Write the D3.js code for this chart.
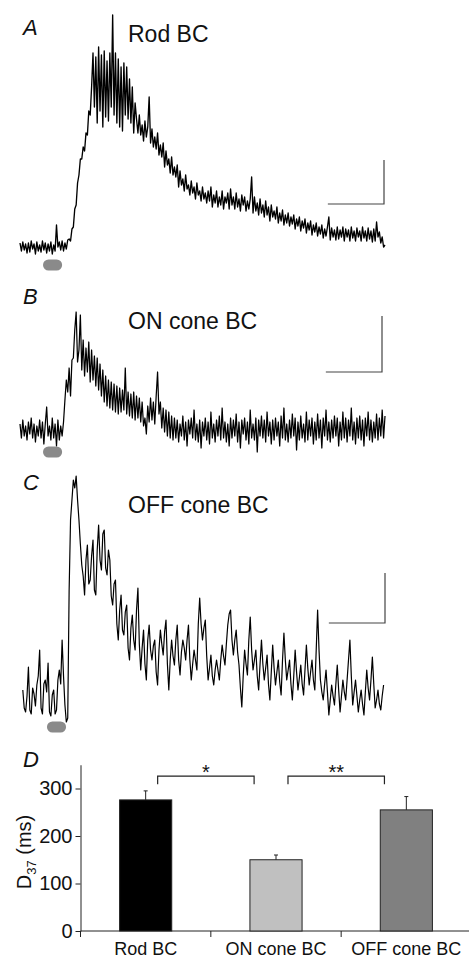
<!DOCTYPE html>
<html>
<head>
<meta charset="utf-8">
<script src="https://cdn.jsdelivr.net/npm/d3@7"></script>
<style>
  body { margin: 0; background: #fff; }
  text { font-family: "Liberation Sans", Arial, Helvetica, sans-serif; fill: #111; }
</style>
</head>
<body>
<script>
    // traces are sampled every dt ms, amplitudes in pA
    var dt = 5

    var rodTrace = [
        2, -2, 2.5, -1.5, 1.5, -3, 2, -2.5, 3, -1, 1.5, -3.5, 2.5, -2, 1, -2.5, 3, -1.5, 2, -3,
        1.5, -2, 2.5, -3.5, 1, -2, 11, 0, 2.5, -1.5, 3, -2, 2, -1, 3.5,
        4, 3, 9, 10, 19, 21, 32, 36, 44, 44, 50, 48, 57, 56, 68, 66, 80,
        97, 70, 95, 62, 100, 68, 96, 60, 98, 65, 93, 63, 97, 70, 116, 66, 97, 62, 94, 60, 90, 58,
        92, 66, 90, 64, 84, 62, 80, 57, 72,
        64, 57, 66, 56, 61, 53, 63, 55, 60, 75,
        52, 59, 50, 55, 49, 57, 46, 51, 45, 52,
        40, 48, 41, 44, 37, 45, 36, 40, 35, 41,
        30, 38, 31, 34, 28, 36, 29, 31, 26, 33,
        27, 30, 24, 32, 26, 28, 23, 30, 24, 27,
        22, 28, 23, 30, 20, 26, 22, 28, 20, 25,
        21, 28, 19, 25, 22, 27, 19, 29, 21, 25,
        19, 27, 20, 24, 18, 26, 21, 25, 18, 23,
        19, 24, 35, 17, 25, 18, 22, 16, 24, 17,
        21, 15, 23, 16, 20, 13, 21, 15, 18, 14,
        20, 12, 17, 13, 18.5, 11, 16, 12, 17, 10.5,
        15, 11.5, 16, 9, 14, 10.5, 15, 8, 13, 9.5,
        14, 7, 12, 8.5, 13, 6, 11, 7.5, 12, 5.5,
        10, 6.5, 11, 4.5, 9, 5.5, 10, 15, 3.5, 9.5,
        5, 8.5, 3.5, 10, 4, 8.5, 5, 10, 3, 9,
        5, 8.5, 3, 10, 4.5, 8, 3, 9.5, 5, 8,
        3, 10, 4.5, 8, 3, 9.5, 4, 8, 2.5, 9,
        3, 12.5, 5, 7.5, 2, 5, 0, 1]

    var onTrace = [
        3, -4, 5, -3, 2, -5, 4, -2, 6, -4, 3, -6, 2, -3, 5, -4, 4, -7, 3, 11.5,
        -3, 2, -5, 6, -4, 3, -8, 5, -5, 2, -3,
        4, 15, 25, 19, 31, 17, 35, 36, 50, 59, 34, 40, 57.5, 30, 45, 27, 41, 29, 44, 24,
        40, 25, 37, 22, 36, 20, 33, 17, 30, 14, 27, 12, 25, 11, 24, 10, 23, 9, 22, 8,
        21, 9, 20, 10, 31, 8, 19, 7, 18, 6, 19, 5, 17, 6, 16, 4, 14, 2, 6, -2,
        12, 4, 16, 5, 14, 3, 17, 29, 8, 14, 1, 11, -1, 10, -3, 9, -4, 7, -5, 6,
        -4, 5, -6, 3, -3, 7, -5, 4, -8, 5,
        -2, 6, -4, 10, -5, 3, -6, 5, -9, 4,
        -3, 6, -5, 4, -7, 9, -4, 3, -6, 5,
        -3, 7, -5, 11, -4, 4, -6, 3, -8, 6,
        -4, 5, -3, 8, -6, 4, -9, 5, -2, 6,
        -5, 4, -7, 10, -4, 3, -5, 6, -11, 5,
        -3, 7, -4, 5, -6, 9, -3, 4, -7, 5,
        -5, 6, -3, 4, -8, 7, -4, 11, -5, 3,
        -6, 5, -4, 8, -3, 6, -10, 4, -5, 7,
        -4, 3, -6, 9, -5, 5, -3, 6, -7, 4,
        -5, 8, -4, 5, -9, 6, -3, 10, -5, 4,
        -6, 5, -4, 7, -3, 6, -8, 4, -5, 9,
        -4, 6, -6, 5, -3, 11, -5, 4, -7, 6,
        -4, 7, -5, 5, -8, 6, -3, 9, -5, 5,
        -6, 4, -4, 8, -5, 6, -3, 10, -4, 7]

    var offTrace = [
        5, -4, -6, 2, 16.5, -5, -7, 6, 3, -3, 7.5, 12, 25, -4, -7, 8, 10, 4, 18.5, -6,
        -8, 2.5, 5, -7, -5, 10, 15, 8, 30, 12, -2.5, -11, -9,
        55, 90, 100, 110, 106, 112, 100, 90, 78, 67.5, 62, 52.5, 70, 77.5, 58, 60, 72, 80, 55, 52.5,
        75, 87.5, 70, 65, 83, 85, 66, 62.5, 75, 70, 52, 47.5, 58, 60, 38, 30, 45, 52.5, 35, 32.5,
        44, 47.5, 26, 20, 36, 42.5, 30, 25, 45, 56, 28, 15, 26, 35, 18, 10, 30, 37.5, 25, 20,
        27, 30, 14, 7.5, 25, 35, 28, 22.5, 34, 40, 18, 5, 20, 30, 22, 17.5, 30, 37.5, 20, 12.5,
        24, 30, 26, 20, 30, 37.5, 20, 10, 18, 25, 20, 15, 38, 51, 38, 30, 36, 40, 22, 10,
        16, 22.5, 12, 7.5, 15, 20, 15, 10, 20, 27.5, 22, 17.5, 28, 37.5, 43, 45, 30, 22.5, 30, 35,
        24, 17.5, 6, -3.5, 12, 25, 18, 12.5, 30, 41.5, 25, 15, 20, 25, 12, 5, 18, 30, 18, 10,
        16, 22.5, 8, 0, 14, 27.5, 16, 7.5, 14, 20, 9, 2.5, 20, 33.5, 20, 10, 15, 20, 8, 0,
        12, 25, 14, 5, 11, 17.5, 8, 2.5, 15, 27.5, 16, 7.5, 14, 20, 10, 5, 25, 45, 25, 10,
        4, 0, 8, 15, 4, -7.5, 0, 7.5, 2, -2.5, 8, 17.5, 5, -6, 2, 10, 4, 0, 10, 20,
        30, 12, -2.5, 4, 10, 2, -6, 0, 5, -2, -7.5, 4, 15, 6, 0, 10, 21.5, 8, -4, 0,
        5, -2, -5, 2, 7.5]

    var traceStart = [0, 0, 10]          // ms
    var stimTimes = [[82, 150], [82, 150], [96, 164]]   // light flash, ms
    var scaleTime = 200                  // ms
    var scaleAmp = [22, 28, 25]          // pA
    var traceNames = ['Rod BC', 'ON cone BC', 'OFF cone BC']
    var panelLetters = ['A', 'B', 'C', 'D']

    // panel D
    var cells = ['Rod BC', 'ON cone BC', 'OFF cone BC']
    var d37 = [276, 150, 255]
    var d37Sem = [19, 10, 28]
    var yTicks = [0, 100, 200, 300]
    var sigPairs = [['Rod BC', 'ON cone BC', '*'], ['ON cone BC', 'OFF cone BC', '**']]
    var barFill = ['#000000', '#c0c0c0', '#808080']

    var width = 469, height = 966
    var svg = d3.select('body').append('svg').attr('width', width).attr('height', height)

    var x = d3.scaleLinear().domain([0, 1300]).range([20, 385])

    // layout of the three trace panels
    var layout = [
        {base: 247, stimY: 265, bar: [384, 204], letterY: 35, titleY: 42, sw: 1.35},
        {base: 430, stimY: 452, bar: [382, 372], letterY: 304, titleY: 329, sw: 1.25},
        {base: 700, stimY: 727, bar: [385, 623], letterY: 490, titleY: 513, sw: 1.2}
    ]
    var traces = [rodTrace, onTrace, offTrace]

    layout.forEach(function(p, k) {
        var y = d3.scaleLinear().domain([0, 100]).range([p.base, p.base - 200])
        var line = d3.line()
            .x(function(d, i) { return x(traceStart[k] + i * dt) })
            .y(function(d) { return y(d) })

        svg.append('path').datum(traces[k]).attr('d', line)
            .attr('fill', 'none').attr('stroke', '#000').attr('stroke-width', p.sw)
            .attr('stroke-linejoin', 'round')

        // flash marker
        var s = stimTimes[k]
        svg.append('rect').attr('x', x(s[0])).attr('width', x(s[1]) - x(s[0]))
            .attr('y', p.stimY - 5.5).attr('height', 11).attr('rx', 5.5)
            .attr('fill', '#8a8a8a')

        // scale bar
        var hl = x(scaleTime) - x(0), vl = y(0) - y(scaleAmp[k])
        svg.append('path')
            .attr('d', `M${p.bar[0] - hl},${p.bar[1]} H${p.bar[0]} V${p.bar[1] - vl}`)
            .attr('fill', 'none').attr('stroke', '#444').attr('stroke-width', 1.2)

        svg.append('text').attr('x', 23).attr('y', p.letterY).text(panelLetters[k])
            .style('font-size', '22px').style('font-style', 'italic')
        svg.append('text').attr('x', 128).attr('y', p.titleY).text(traceNames[k])
            .style('font-size', '23px')
    })

    // ---- panel D: bar chart ----
    var yD = d3.scaleLinear().domain([0, 350]).range([931, 764.75])
    var xD = d3.scaleBand().domain(cells).range([80.5, 471.5]).paddingInner(0.6).paddingOuter(0.3)
    var bw = xD.bandwidth(), step = xD.step()

    svg.append('text').attr('x', 23).attr('y', 767).text(panelLetters[3])
        .style('font-size', '22px').style('font-style', 'italic')

    var gy = svg.append('g').attr('transform', 'translate(80.5,0)')
        .call(d3.axisLeft(yD).tickValues(yTicks).tickSize(5).tickSizeOuter(0).tickPadding(3))
    gy.selectAll('text').style('font-size', '20px').style('font-family', '"Liberation Sans", Arial, sans-serif').attr('fill', '#111')
    gy.selectAll('line, path').attr('stroke', '#222')

    // x axis with ticks on category borders
    svg.append('line').attr('x1', 80.5).attr('x2', 471.5).attr('y1', yD(0)).attr('y2', yD(0))
        .attr('stroke', '#222')
    svg.selectAll('.bt').data(d3.range(cells.length + 1)).enter().append('line')
        .attr('x1', function(d) { return 80.5 + d * step }).attr('x2', function(d) { return 80.5 + d * step })
        .attr('y1', yD(0)).attr('y2', yD(0) + 6).attr('stroke', '#222')

    svg.selectAll('.bar').data(cells).enter().append('rect')
        .attr('x', function(d) { return xD(d) })
        .attr('y', function(d, i) { return yD(d37[i]) })
        .attr('width', bw)
        .attr('height', function(d, i) { return yD(0) - yD(d37[i]) })
        .attr('fill', function(d, i) { return barFill[i] })
        .attr('stroke', '#222').attr('stroke-width', 1)

    // error bars (upper only)
    cells.forEach(function(c, i) {
        var cx = xD(c) + bw / 2
        svg.append('line').attr('x1', cx).attr('x2', cx)
            .attr('y1', yD(d37[i])).attr('y2', yD(d37[i] + d37Sem[i])).attr('stroke', '#222')
        svg.append('line').attr('x1', cx - 2).attr('x2', cx + 2)
            .attr('y1', yD(d37[i] + d37Sem[i])).attr('y2', yD(d37[i] + d37Sem[i])).attr('stroke', '#222')
        svg.append('text').attr('x', cx).attr('y', 955).attr('text-anchor', 'middle')
            .text(c).style('font-size', '18px')
    })

    // significance brackets
    sigPairs.forEach(function(s) {
        var x1 = xD(s[0]) + bw * 0.73, x2 = xD(s[1]) + bw * 0.08
        var yt = yD(326), yb = yD(309)
        svg.append('path').attr('d', `M${x1},${yb} V${yt} H${x2} V${yb}`)
            .attr('fill', 'none').attr('stroke', '#222').attr('stroke-width', 1.2)
        svg.append('text').attr('x', (x1 + x2) / 2).attr('y', yt + 3).attr('text-anchor', 'middle')
            .text(s[2]).style('font-size', '20px')
    })

    // y label D37 (ms)
    var yl = svg.append('text').attr('transform', 'translate(31,852) rotate(-90)')
        .attr('text-anchor', 'middle').style('font-size', '20px')
    yl.append('tspan').text('D')
    yl.append('tspan').text('37').style('font-size', '13px').attr('dy', 5)
    yl.append('tspan').text(' (ms)').attr('dy', -5)
</script>
</body>
</html>
